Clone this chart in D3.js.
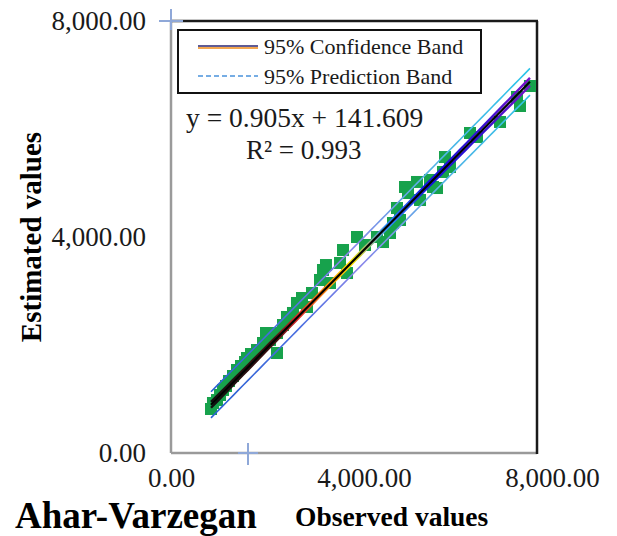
<!DOCTYPE html>
<html>
<head>
<meta charset="utf-8">
<script src="https://cdn.jsdelivr.net/npm/d3@7"></script>
<style>
  html, body { margin: 0; padding: 0; background: #fff; }
  svg { display: block; }
</style>
</head>
<body>
<svg id="chart" width="617" height="536"></svg>
<script>
// Observed vs. estimated discharge, Ahar-Varzegan station
const observed = [829, 870, 953, 1016, 1078, 1140, 1202, 1285, 1368, 1451, 1534, 1575, 1658, 1782,
  1907, 2052, 1969, 2197, 2197, 2321, 2404, 2528, 2611, 2715, 2819, 2922, 3088, 3150, 3295, 3212,
  3503, 3565, 3648, 3855, 4021, 4269, 4394, 4539, 4601, 4684, 4746, 4850, 4912, 5098, 5161, 5368,
  5430, 5513, 5637, 5679, 5782, 6197, 6342, 6819, 7171, 7233, 7440];
const estimated = [815, 926, 981, 1074, 1167, 1241, 1333, 1426, 1537, 1611, 1685, 1759, 1833, 1907,
  2037, 2093, 2222, 1852, 2222, 2370, 2519, 2593, 2778, 2870, 2704, 2963, 3204, 3389, 3148, 3481,
  3519, 3759, 3333, 4000, 3852, 4000, 3907, 4074, 4259, 4537, 4315, 4926, 4815, 5019, 4685, 5056,
  4926, 4907, 5204, 5481, 5296, 5926, 5852, 6130, 6593, 6426, 6796];

const xTicks = [0, 4000, 8000];
const yTicks = [0, 4000, 8000];

// Fitted regression y = slope * x + intercept
const slope = 0.905;
const intercept = 141.609;
const rSquared = 0.993;
const residualSE = 118;
const tValue = 2.0;

const legendLabels = ["95% Confidence Band", "95% Prediction Band"];
const stationName = "Ahar-Varzegan";

const svg = d3.select("#chart");
const serif = "'Liberation Serif', 'Times New Roman', serif";

// Plot frame spans 171..537 horizontally; the x scale runs on past the right edge
const frame = { left: 171, right: 537, top: 21, bottom: 453 };
const x = d3.scaleLinear().domain([0, 8000]).range([171, 557]);
const y = d3.scaleLinear().domain([0, 8000]).range([453, 21]);
const fmt = d3.format(",.2f");

svg.append("rect").attr("width", 617).attr("height", 536).attr("fill", "#fff");

// Band statistics
const n = observed.length;
const xbar = d3.mean(observed);
const sxx = d3.sum(observed, v => (v - xbar) ** 2);
const fitRange = d3.extent(observed);
const fit = v => slope * v + intercept;
const halfConf = v => tValue * residualSE * Math.sqrt(1 / n + (v - xbar) ** 2 / sxx);
const halfPred = v => tValue * residualSE * Math.sqrt(1 + 1 / n + (v - xbar) ** 2 / sxx);
const xs = d3.range(0, 61).map(i => fitRange[0] + (fitRange[1] - fitRange[0]) * i / 60);

const defs = svg.append("defs");
function gradient(id, stops) {
  const g = defs.append("linearGradient").attr("id", id)
    .attr("gradientUnits", "userSpaceOnUse")
    .attr("x1", x(fitRange[0])).attr("y1", y(fit(fitRange[0])))
    .attr("x2", x(fitRange[1])).attr("y2", y(fit(fitRange[1])));
  stops.forEach(([o, c]) => g.append("stop").attr("offset", o).attr("stop-color", c));
}
gradient("predGrad", [[0, "#2b62d4"], [0.25, "#4a6ee0"], [0.45, "#8a86ea"], [0.7, "#55b2e6"], [1, "#2ec4e8"]]);
gradient("confGrad", [[0, "#101010"], [0.2, "#401010"], [0.27, "#e02828"], [0.36, "#ff8a10"], [0.44, "#ffe600"],
  [0.55, "#3090ff"], [0.68, "#1010e0"], [0.86, "#3a10d0"], [1, "#7a10c8"]]);

// Frame
svg.append("line").attr("x1", frame.left).attr("x2", frame.right).attr("y1", frame.bottom).attr("y2", frame.bottom)
  .attr("stroke", "#9a9a9a").attr("stroke-width", 2.5);
svg.append("line").attr("x1", frame.left).attr("x2", frame.left).attr("y1", frame.top).attr("y2", frame.bottom)
  .attr("stroke", "#9a9a9a").attr("stroke-width", 2.5);
svg.append("line").attr("x1", frame.left).attr("x2", frame.right + 1).attr("y1", frame.top).attr("y2", frame.top)
  .attr("stroke", "#1a1a1a").attr("stroke-width", 2.5);
svg.append("line").attr("x1", frame.right).attr("x2", frame.right).attr("y1", frame.top).attr("y2", frame.bottom + 1)
  .attr("stroke", "#1a1a1a").attr("stroke-width", 2.5);

// Small blue cross marks on the frame
const crossColor = "#8fa8d8";
svg.append("line").attr("x1", 159).attr("x2", 183).attr("y1", 21).attr("y2", 21)
  .attr("stroke", crossColor).attr("stroke-width", 2);
svg.append("line").attr("x1", 171).attr("x2", 171).attr("y1", 9).attr("y2", 30)
  .attr("stroke", crossColor).attr("stroke-width", 2);
svg.append("line").attr("x1", 248).attr("x2", 248).attr("y1", 443).attr("y2", 465)
  .attr("stroke", crossColor).attr("stroke-width", 2);
svg.append("line").attr("x1", 238).attr("x2", 258).attr("y1", 453).attr("y2", 453)
  .attr("stroke", crossColor).attr("stroke-width", 2);

// Axes (labels only)
const yAxis = svg.append("g").attr("transform", `translate(${frame.left},0)`)
  .call(d3.axisLeft(y).tickValues(yTicks).tickFormat(fmt).tickSize(0).tickPadding(25));
const xAxis = svg.append("g").attr("transform", `translate(0,${frame.bottom})`)
  .call(d3.axisBottom(x).tickValues(xTicks).tickFormat(fmt).tickSize(0).tickPadding(15));
[yAxis, xAxis].forEach(g => {
  g.select(".domain").remove();
  g.selectAll("text").attr("font-family", serif).attr("font-size", 27).attr("fill", "#1a1a1a");
});
xAxis.selectAll(".tick").filter(d => d === 8000).select("text").attr("dx", -5);

// Points
const sq = 12;
svg.append("g").selectAll("rect").data(observed).join("rect")
  .attr("x", d => x(d) - sq / 2)
  .attr("y", (d, i) => y(estimated[i]) - sq / 2)
  .attr("width", sq).attr("height", sq)
  .attr("fill", "#17a24c");

// Prediction band
const lineGen = d3.line().x(d => x(d[0])).y(d => y(d[1]));
[1, -1].forEach(sgn => {
  svg.append("path")
    .attr("d", lineGen(xs.map(v => [v, fit(v) + sgn * halfPred(v)])))
    .attr("fill", "none").attr("stroke", "url(#predGrad)").attr("stroke-width", 1.6);
});

// Confidence band
[1, -1].forEach(sgn => {
  svg.append("path")
    .attr("d", lineGen(xs.map(v => [v, fit(v) + sgn * halfConf(v)])))
    .attr("fill", "none").attr("stroke", "url(#confGrad)").attr("stroke-width", 2.4);
});

// Regression line
svg.append("path")
  .attr("d", lineGen(fitRange.map(v => [v, fit(v)])))
  .attr("fill", "none").attr("stroke", "#000").attr("stroke-width", 2.2);

// Legend
const lg = svg.append("g");
lg.append("rect").attr("x", 178).attr("y", 30).attr("width", 303).attr("height", 63)
  .attr("fill", "#fff").attr("stroke", "#111").attr("stroke-width", 2);
lg.append("line").attr("x1", 198).attr("x2", 258).attr("y1", 48).attr("y2", 48)
  .attr("stroke", "#f2a650").attr("stroke-width", 2);
lg.append("line").attr("x1", 198).attr("x2", 258).attr("y1", 46).attr("y2", 46)
  .attr("stroke", "#2a2470").attr("stroke-width", 1.6);
lg.append("line").attr("x1", 198).attr("x2", 258).attr("y1", 76).attr("y2", 76)
  .attr("stroke", "#4a92dc").attr("stroke-width", 1.6).attr("stroke-dasharray", "5,3");
lg.selectAll("text").data(legendLabels).join("text")
  .attr("x", 264).attr("y", (d, i) => 54 + i * 30)
  .attr("font-family", serif).attr("font-size", 22).attr("fill", "#1a1a1a")
  .text(d => d);

// Equation
svg.append("text").attr("x", 186).attr("y", 127)
  .attr("font-family", serif).attr("font-size", 27.5).attr("fill", "#1a1a1a")
  .text(`y = ${slope.toFixed(3)}x + ${intercept.toFixed(3)}`);
svg.append("text").attr("x", 246).attr("y", 159)
  .attr("font-family", serif).attr("font-size", 27).attr("fill", "#1a1a1a")
  .text(`R² = ${rSquared.toFixed(3)}`);

// Axis titles
svg.append("text").attr("transform", "translate(41,237) rotate(-90)")
  .attr("text-anchor", "middle")
  .attr("font-family", serif).attr("font-weight", "bold").attr("font-size", 29).attr("fill", "#000")
  .text("Estimated values");
svg.append("text").attr("x", 295).attr("y", 526)
  .attr("font-family", serif).attr("font-weight", "bold").attr("font-size", 27.5).attr("fill", "#000")
  .text("Observed values");
svg.append("text").attr("x", 15).attr("y", 527.5)
  .attr("font-family", serif).attr("font-weight", "bold").attr("font-size", 37).attr("fill", "#000")
  .text(stationName);
</script>
</body>
</html>
